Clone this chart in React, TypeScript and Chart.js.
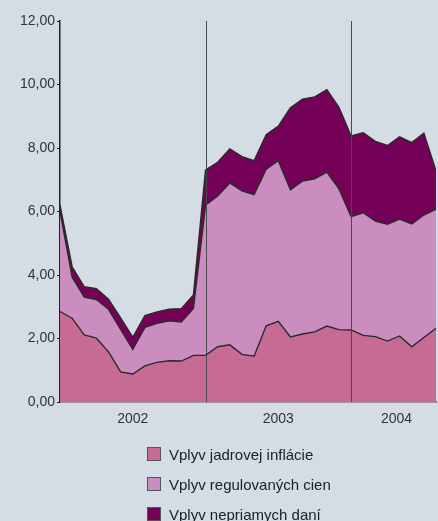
import React, { useEffect, useRef } from "react";
import { Chart, registerables } from "chart.js";

Chart.register(...registerables);

// Monthly categories, Jan 2002 – Aug 2004
const months: string[] = [
  "2002-01", "2002-02", "2002-03", "2002-04", "2002-05", "2002-06",
  "2002-07", "2002-08", "2002-09", "2002-10", "2002-11", "2002-12",
  "2003-01", "2003-02", "2003-03", "2003-04", "2003-05", "2003-06",
  "2003-07", "2003-08", "2003-09", "2003-10", "2003-11", "2003-12",
  "2004-01", "2004-02", "2004-03", "2004-04", "2004-05", "2004-06",
  "2004-07", "2004-08",
];

const seriesLabels = [
  "Vplyv jadrovej inflácie",
  "Vplyv regulovaných cien",
  "Vplyv nepriamych daní",
];

const coreInflation: number[] = [
  2.85, 2.64, 2.11, 2.01, 1.58, 0.95, 0.88, 1.14, 1.25, 1.30, 1.29, 1.47,
  1.47, 1.74, 1.80, 1.50, 1.44, 2.40, 2.54, 2.05, 2.14, 2.21, 2.39, 2.28,
  2.27, 2.10, 2.06, 1.92, 2.08, 1.74, 2.03, 2.32,
];

const regulatedPrices: number[] = [
  3.15, 1.29, 1.19, 1.22, 1.34, 1.34, 0.78, 1.21, 1.23, 1.26, 1.23, 1.48,
  4.73, 4.75, 5.10, 5.15, 5.09, 4.93, 5.06, 4.63, 4.82, 4.82, 4.85, 4.43,
  3.57, 3.86, 3.64, 3.68, 3.68, 3.87, 3.86, 3.75,
];

const indirectTaxes: number[] = [
  0.20, 0.33, 0.33, 0.34, 0.32, 0.36, 0.38, 0.37, 0.36, 0.36, 0.42, 0.42,
  1.11, 1.06, 1.07, 1.08, 1.07, 1.09, 1.09, 2.59, 2.58, 2.58, 2.60, 2.57,
  2.54, 2.52, 2.51, 2.48, 2.59, 2.56, 2.58, 1.21,
];

const yTicks: number[] = [0, 2, 4, 6, 8, 10, 12];

const COLORS = ["#c86b94", "#c98dc0", "#750058"];
const BG = "#d5dde4";
const FONT = "'Liberation Sans', Arial, sans-serif";

// Derive year groups from the month labels
const years: string[] = Array.from(new Set(months.map((m) => m.slice(0, 4))));
const yearStart = years.map((y) => months.findIndex((m) => m.startsWith(y)));
const yearEnd = years.map((y, i) =>
  i < years.length - 1 ? yearStart[i + 1] : months.length - 0.5
);
const yearMid = years.map((_, i) => (yearStart[i] + yearEnd[i]) / 2);
const yearLines = yearStart.slice(1);

export default function App() {
  const canvasRef = useRef<HTMLCanvasElement | null>(null);

  useEffect(() => {
    if (!canvasRef.current) return;
    const seriesData = [coreInflation, regulatedPrices, indirectTaxes];

    const yearLinePlugin = {
      id: "yearLines",
      afterDatasetsDraw(chart: any) {
        const { ctx, chartArea, scales } = chart;
        ctx.save();
        ctx.strokeStyle = "#4a4a4a";
        ctx.lineWidth = 1;
        yearLines.forEach((v) => {
          const x = Math.round(scales.x.getPixelForValue(v)) + 0.5;
          ctx.beginPath();
          ctx.moveTo(x, chartArea.top);
          ctx.lineTo(x, chartArea.bottom);
          ctx.stroke();
        });
        ctx.restore();
      },
    };

    const chart = new Chart(canvasRef.current, {
      type: "line",
      data: {
        datasets: seriesData.map((arr, si) => ({
          label: seriesLabels[si],
          data: arr.map((y, i) => ({ x: i, y })),
          fill: si === 0 ? "origin" : "-1",
          backgroundColor: COLORS[si],
          borderColor: "#2a2a2a",
          borderWidth: 1.4,
          pointRadius: 0,
          tension: 0,
        })),
      },
      options: {
        animation: false,
        responsive: false,
        devicePixelRatio: 1,
        layout: { padding: { top: 21, right: 2, left: 0, bottom: 0 } },
        plugins: {
          legend: { display: false },
          tooltip: { enabled: false },
        },
        scales: {
          x: {
            type: "linear",
            min: 0,
            max: months.length - 1,
            afterBuildTicks: (scale: any) => {
              scale.ticks = yearMid.map((v) => ({ value: v }));
            },
            afterFit: (scale: any) => {
              scale.height = 119;
            },
            ticks: {
              autoSkip: false,
              maxRotation: 0,
              padding: 9,
              color: "#333",
              font: { family: FONT, size: 14 },
              callback: (value: any) => {
                const idx = yearMid.indexOf(Number(value));
                return idx >= 0 ? years[idx] : "";
              },
            },
            grid: { display: false, drawTicks: false },
            border: { display: true, color: "#555", width: 1.5 },
          },
          y: {
            stacked: true,
            min: 0,
            max: 12,
            afterBuildTicks: (scale: any) => {
              scale.ticks = yTicks.map((v) => ({ value: v }));
            },
            afterFit: (scale: any) => {
              scale.width = 60;
            },
            ticks: {
              padding: 2,
              color: "#333",
              font: { family: FONT, size: 14 },
              callback: (value: any) => Number(value).toFixed(2).replace(".", ","),
            },
            grid: {
              display: true,
              drawOnChartArea: false,
              drawTicks: true,
              tickLength: 3,
              color: "#222",
            },
            border: { display: true, color: "#222", width: 1.5 },
          },
        },
      },
      plugins: [yearLinePlugin],
    });

    return () => chart.destroy();
  }, []);

  return (
    <div
      style={{
        position: "fixed",
        left: 0,
        top: 0,
        width: 438,
        height: 521,
        background: BG,
        overflow: "hidden",
      }}
    >
      <canvas
        ref={canvasRef}
        width={438}
        height={521}
        style={{ display: "block", width: 438, height: 521 }}
      />
      <div
        style={{
          position: "absolute",
          left: 147,
          top: 447,
          fontFamily: FONT,
          fontSize: 15,
          color: "#222",
        }}
      >
        {seriesLabels.map((label, i) => (
          <div
            key={label}
            style={{
              display: "flex",
              alignItems: "center",
              height: 14,
              marginBottom: 16,
              whiteSpace: "nowrap",
            }}
          >
            <span
              style={{
                display: "inline-block",
                width: 12,
                height: 12,
                border: "1px solid #555",
                background: COLORS[i],
                marginRight: 8,
              }}
            />
            <span>{label}</span>
          </div>
        ))}
      </div>
    </div>
  );
}
